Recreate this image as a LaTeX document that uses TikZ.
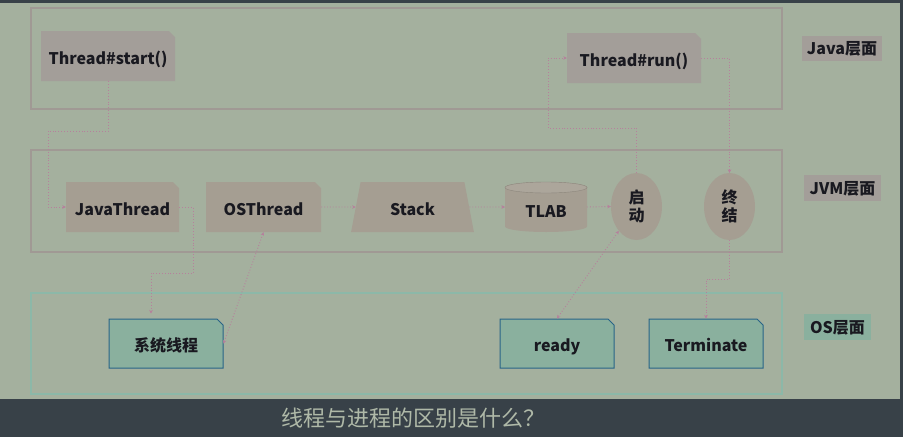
\documentclass[tikz,border=0pt]{standalone}
\usepackage{fontspec}
\setmainfont{Noto Sans CJK SC}
\usetikzlibrary{shapes.misc,shapes.geometric,arrows.meta}
\definecolor{bg}{RGB}{164,176,158}
\definecolor{darkband}{RGB}{56,65,72}
\definecolor{framec}{RGB}{160,153,148}
\definecolor{osframe}{RGB}{140,184,168}
\definecolor{jnode}{RGB}{163,158,153}
\definecolor{vnode}{RGB}{165,158,146}
\definecolor{tnode}{RGB}{138,176,158}
\definecolor{tborder}{RGB}{40,100,135}
\definecolor{connc}{RGB}{182,128,156}
\definecolor{txt}{RGB}{25,25,32}
\definecolor{capc}{RGB}{175,185,168}
\tikzset{
  lbl/.style={font=\fontsize{16}{18}\selectfont\bfseries, text=txt, inner sep=0pt},
  one/.style={lbl, text height=16.5pt, text depth=0pt},
  jbox/.style={one, chamfered rectangle, chamfered rectangle corners=north east,
    chamfered rectangle xsep=3pt, chamfered rectangle ysep=3pt, fill=jnode, draw=none},
  vbox/.style={jbox, fill=vnode},
  tbox/.style={jbox, fill=tnode, draw=tborder, line width=1pt},
  oval/.style={lbl, ellipse, fill=vnode, minimum width=51, minimum height=67, align=center},
  layer/.style={lbl, text height=12pt, text depth=0pt, fill=jnode, minimum height=25},
  frm/.style={draw=framec, line width=1.5pt},
  conn/.style={draw=connc, dotted, line width=0.9pt, -{Stealth[length=3.5pt,width=3.5pt]}},
}
\begin{document}
\begin{tikzpicture}[x=1pt,y=-1pt]
\fill[darkband] (0,0) rectangle (903,437);
\fill[bg] (0,3) rectangle (900,399);
\useasboundingbox (0,0) rectangle (903,437);
% frames
\draw[frm] (31,8) rectangle (782,109);
\draw[frm] (31,150) rectangle (782,252);
\draw[frm, draw=osframe] (31,293) rectangle (782,394);
% layer labels
\node[layer, minimum width=80] (ljava) at (842,48.5) {Java层面};
\node[layer, minimum width=77, minimum height=26] (ljvm) at (842.5,188) {JVM层面};
\node[layer, fill=tnode, minimum width=67, minimum height=26] (los) at (837.5,327) {OS层面};
% java nodes
\node[jbox, minimum width=134, minimum height=50] (start) at (108,56) {Thread\#start()};
\node[jbox, minimum width=134, minimum height=50] (run) at (634,58) {Thread\#run()};
% jvm nodes
\node[vbox, minimum width=113, minimum height=50] (jt) at (122.5,207) {JavaThread};
\node[vbox, minimum width=115, minimum height=50] (ost) at (263.5,207) {OSThread};
\node[one, trapezium, trapezium left angle=76, trapezium right angle=76, trapezium stretches=true,
  fill=vnode, minimum width=123, minimum height=50] (stack) at (412.5,207) {Stack};
\fill[vnode] (505,187.5) -- (505,226.5) arc[start angle=180,end angle=360,x radius=41,y radius=-5.5]
  -- (587,187.5) arc[start angle=0,end angle=180,x radius=41,y radius=-5.5] -- cycle;
\draw[fill=vnode!92!white, draw=vnode!85!black, line width=0.4pt] (546,187.5) ellipse[x radius=41,y radius=5.5];
\node[one, minimum width=82, minimum height=50] (tlab) at (546,209) {TLAB};
\node[oval] (qd) at (636.5,206.5) {启\\动};
\node[oval] (zj) at (729.5,206.5) {终\\结};
% os nodes
\node[tbox, minimum width=114, minimum height=49] (sys) at (166,343.5) {系统线程};
\node[tbox, minimum width=114, minimum height=49] (ready) at (557,343.5) {ready};
\node[tbox, minimum width=114, minimum height=49] (term) at (706,343.5) {Terminate};
% caption
\node[font=\fontsize{22}{24}\selectfont, text=capc] (cap) at (413,418) {线程与进程的区别是什么？};
% connectors
\coordinate (c1a) at (108,131);
\coordinate (c1b) at (48,131);
\draw[conn] (start.south) -- (c1a) -- (c1b) |- (jt.west);
\coordinate (c2a) at (193,273);
\coordinate (c2b) at (151,273);
\draw[conn, shorten >=5pt] (jt.east) -| (c2a) -- (c2b) -- (c2b |- sys.north);
\draw[conn, {Stealth[length=3.5pt,width=3.5pt]}-{Stealth[length=3.5pt,width=3.5pt]}] (sys.east) -- (ost.south);
\draw[conn] (ost.east) -- (stack.west);
\draw[conn] (stack.east) -- (546-41,207);
\draw[conn] (587,207) -- (qd.west);
\coordinate (c7a) at (636.5,128);
\coordinate (c7b) at (548,128);
\draw[conn] (qd.north) -- (c7a) -- (c7b) |- (run.west);
\draw[conn] (run.east) -| (zj.north);
\coordinate (c9) at (706,279);
\draw[conn] (zj.south) |- (c9) -- (term.north);
\draw[conn, {Stealth[length=3.5pt,width=3.5pt]}-{Stealth[length=3.5pt,width=3.5pt]}] (qd.234) -- (ready.north);
\end{tikzpicture}
\end{document}
